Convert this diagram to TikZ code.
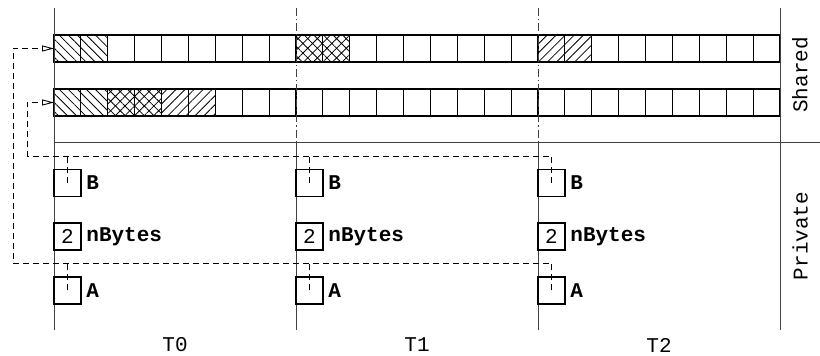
\documentclass[tikz,border=0pt]{standalone}
\usepackage{fontspec}
\setmonofont{Liberation Mono}
\usetikzlibrary{patterns.meta,arrows.meta}
\begin{document}
\begin{tikzpicture}[x=0.5pt,y=-0.5pt,
  every node/.style={font=\ttfamily\fontsize{10.5}{12}\selectfont},
  struct/.style={line width=0.45pt,black!75},
  dashdot/.style={struct,dash pattern=on 4pt off 1.5pt on 0.6pt off 1.5pt},
  cell/.style={draw,line width=0.6pt,minimum width=13.444pt,minimum height=13.5pt,inner sep=0pt,outer sep=0pt},
  pbox/.style={draw,line width=0.6pt,minimum width=13.5pt,minimum height=13.5pt,inner sep=0pt,outer sep=0pt},
  lbl/.style={anchor=west,inner sep=2.5pt,font=\ttfamily\bfseries\fontsize{10.5}{12}\selectfont},
  dlink/.style={line width=0.45pt,dash pattern=on 3pt off 2pt},
  tip/.style={-{Triangle[open,length=6pt,width=3pt]}},
  pnw/.style={pattern={Lines[angle=-45,distance=3.2pt,line width=0.4pt]}},
  pne/.style={pattern={Lines[angle=45,distance=3.2pt,line width=0.4pt]}},
  pxx/.style={pattern={Hatch[angle=45,distance=3.4pt,line width=0.4pt]}}]
\useasboundingbox (0,0) rectangle (820,356);
% shared rows
\foreach \i in {0,...,26}{
  \node[cell] (ra\i) at ({54+26.889*(\i+0.5)},48.5) {};
  \node[cell] (rb\i) at ({54+26.889*(\i+0.5)},102.5) {};
}
\foreach \n/\p in {ra0/pnw,ra1/pnw,ra9/pxx,ra10/pxx,ra18/pne,ra19/pne,
                   rb0/pnw,rb1/pnw,rb2/pxx,rb3/pxx,rb4/pne,rb5/pne}{
  \path[\p] (\n.south west) rectangle (\n.north east);
}
% structure lines
\coordinate (tl) at (54,8);
\coordinate (bl) at (54,330);
\coordinate (tr) at (780,8);
\coordinate (br) at (780,330);
\coordinate (m1t) at (296,8);
\coordinate (m1m) at (296,142);
\coordinate (m1b) at (296,330);
\coordinate (m2t) at (538,8);
\coordinate (m2m) at (538,142);
\coordinate (m2b) at (538,330);
\coordinate (hl) at (54,142);
\coordinate (hr) at (820,142);
\draw[struct] (tl) -- (bl);
\draw[struct] (tr) -- (br);
\draw[struct] (hl) -- (hr);
\draw[dashdot] (m1t) -- (m1m);
\draw[dashdot] (m2t) -- (m2m);
\draw[struct] (m1m) -- (m1b);
\draw[struct] (m2m) -- (m2b);
% private boxes
\foreach \k in {0,1,2}{
  \node[pbox] (B\k) at ({67.5+242*\k},183) {};
  \node[lbl] (Bl\k) at (B\k.east) {B};
  \node[pbox] (N\k) at ({67.5+242*\k},236.5) {2};
  \node[lbl] (Nl\k) at (N\k.east) {nBytes};
  \node[pbox] (A\k) at ({67.5+242*\k},290.5) {};
  \node[lbl] (Al\k) at (A\k.east) {A};
}
% dashed links
\coordinate (bturn) at (27,156);
\coordinate (aturn) at (13,263);
\draw[dlink,tip] (B2.center) |- (bturn) |- (rb0.west);
\draw[dlink] (B0.center) -- (B0.center |- bturn);
\draw[dlink] (B1.center) -- (B1.center |- bturn);
\draw[dlink,tip] (A2.center) |- (aturn) |- (ra0.west);
\draw[dlink] (A0.center) -- (A0.center |- aturn);
\draw[dlink] (A1.center) -- (A1.center |- aturn);
% labels
\node (t0) at (175,345) {T0};
\node (t1) at (417,345) {T1};
\node (t2) at (659,345) {T2};
\node[rotate=90] (sh) at (800,75) {Shared};
\node[rotate=90] (pr) at (800,236) {Private};
\end{tikzpicture}
\end{document}
